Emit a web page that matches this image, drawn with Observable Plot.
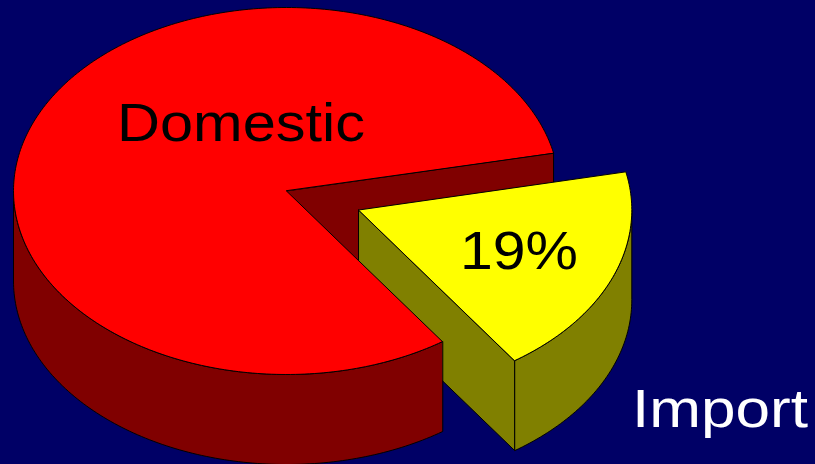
<!DOCTYPE html>
<html>
<head>
<meta charset="utf-8">
<script src="https://cdn.jsdelivr.net/npm/d3@7"></script>
<script src="https://cdn.jsdelivr.net/npm/@observablehq/plot@0.6"></script>
<style>
  html, body { margin: 0; padding: 0; background: #000066; overflow: hidden; }
  svg { display: block; }
</style>
</head>
<body>
<script>
// Market share of supply, in percent
const categories = ["Domestic", "Import"];
const shares = [81, 19];
const shareLabel = "19%";

// Perspective of the tilted disc, in page pixels
const W = 815, H = 464;
const cx = 286, cy = 190.5, rx = 273, ry = 183.5, depth = 90;
const explode = {dx: 72.3, dy: 19};
const startDeg = -12;
// Angles shrink a little at the near right of the disc under the viewing perspective
const foreshorten = 0.982;

const importSweep = shares[1] / d3.sum(shares) * 360 * foreshorten;
const rim = (deg, ox = 0, oy = 0) => {
  const t = deg * Math.PI / 180;
  return [cx + ox + rx * Math.cos(t), cy + oy + ry * Math.sin(t)];
};
const arc = (a, b, ox = 0, oy = 0) => {
  const n = Math.ceil(Math.abs(b - a)), out = [];
  for (let i = 0; i <= n; i++) out.push(rim(a + (b - a) * i / n, ox, oy));
  return out;
};
const shape = (id, fill, pts) => pts.map(([x, y]) => ({id, fill, x, y}));

const a0 = startDeg, a1 = startDeg + importSweep;
const {dx, dy} = explode;

// Pieces listed from the back of the drawing to the front;
// the large slice sits in front of the pulled-out wedge
const pieces = [
  // Inner wall left by the removed wedge
  shape("wall", "#800000", [[cx, cy], rim(a0), rim(a0, 0, depth), [cx, cy + depth]]),
  // Cut face of the pulled-out wedge
  shape("cut", "#808000", [[cx + dx, cy + dy], rim(a1, dx, dy), rim(a1, dx, dy + depth), [cx + dx, cy + dy + depth]]),
  // Outer rim of the wedge
  shape("wedgeRim", "#808000", [...arc(0, a1, dx, dy), ...arc(a1, 0, dx, dy + depth)]),
  // Top of the wedge
  shape("wedgeTop", "#ffff00", [[cx + dx, cy + dy], ...arc(a0, a1, dx, dy)]),
  // Outer rim of the large slice, only its front half is seen
  shape("rim", "#800000", [...arc(a1, 180), ...arc(180, a1, 0, depth)]),
  // Top of the large slice
  shape("top", "#ff0000", [[cx, cy], ...arc(a1, a0 + 360)])
];

const labels = [
  {text: categories[0], x: 240.5, y: 140, fill: "#000000", span: 248},
  {text: shareLabel, x: 518.5, y: 268, fill: "#000000", span: 118},
  {text: categories[1], x: 719.5, y: 426, fill: "#ffffff", span: 176}
];

const chart = Plot.plot({
  width: W,
  height: H,
  margin: 0,
  style: {background: "#000066", fontFamily: "'Liberation Sans'"},
  x: {type: "identity", axis: null},
  y: {type: "identity", axis: null},
  marks: [
    ...pieces.map(p => Plot.line(p, {
      x: "x", y: "y", fill: p[0].fill, stroke: "#000000", strokeWidth: 1,
      strokeLinejoin: "round", curve: "linear-closed"
    })),
    Plot.text(labels, {
      x: "x", y: "y", text: "text", fill: "fill", fontSize: 53, textAnchor: "middle", lineAnchor: "bottom",
      className: "pie-label"
    })
  ]
});

// The lettering is set wider than the font's natural proportions
d3.select(chart).selectAll(".pie-label text")
  .data(labels)
  .attr("textLength", d => d.span)
  .attr("lengthAdjust", "spacingAndGlyphs");

document.body.append(chart);
</script>
</body>
</html>
